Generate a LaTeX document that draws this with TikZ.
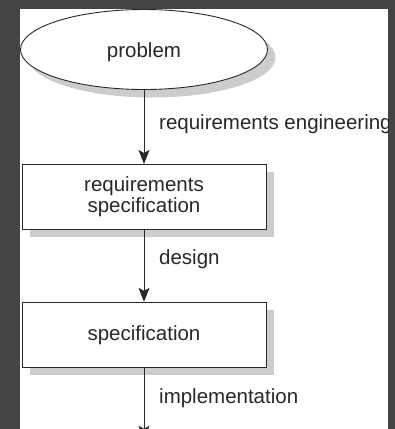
\documentclass[tikz,border=0pt]{standalone}
\usepackage{fontspec}
\setmainfont{Liberation Sans}
\usetikzlibrary{arrows.meta,shapes.geometric,positioning,shadows}
\definecolor{framegray}{RGB}{68,68,68}
\definecolor{shadowgray}{RGB}{204,204,204}
\definecolor{inkgray}{RGB}{40,40,40}

\begin{document}
\begin{tikzpicture}
        [x=1pt, y=-1pt,
        every node/.style={font=\fontsize{20.5pt}{21.5pt}\selectfont, text=inkgray},
        boxshadow/.style={drop shadow={shadow xshift=8pt, shadow yshift=-8pt, fill=shadowgray, opacity=1}},
        phase/.style={ellipse, draw=inkgray, fill=white, line width=0.9pt, minimum width=247pt, minimum height=80pt, inner sep=0pt, text height=15pt, text depth=0pt, boxshadow},
        product/.style={rectangle, draw=inkgray, fill=white, line width=0.9pt, minimum width=244pt, minimum height=65pt, inner sep=0pt, align=center, boxshadow},
        activity/.style={anchor=base west, inner sep=0pt},
        flow/.style={-{Stealth[length=14pt, width=11pt, inset=3pt]}, draw=inkgray, line width=0.9pt}]
        \fill[framegray] (0,0) rectangle (395,429);
        \fill[white] (20,9) rectangle (388,429);
        \useasboundingbox (0,0) rectangle (395,429);
        \begin{scope}
            \clip (20,9) rectangle (388,429);
            \node[phase] (problem) at (144,49.5) {problem};
            \node[product, below=74pt of problem] (reqspec) {requirements\\specification};
            \node[product, below=72pt of reqspec] (spec) {specification};
            \coordinate[below=72pt of spec] (next);
            \node[activity] (reqeng) at (159,129) {requirements engineering};
            \node[activity] (design) at (159,264) {design};
            \node[activity] (impl) at (159,403) {implementation};
            \draw[flow] (problem) -- (reqspec);
            \draw[flow] (reqspec) -- (spec);
            \draw[flow] (spec) -- (next);
        \end{scope}
    \end{tikzpicture}
\end{document}
